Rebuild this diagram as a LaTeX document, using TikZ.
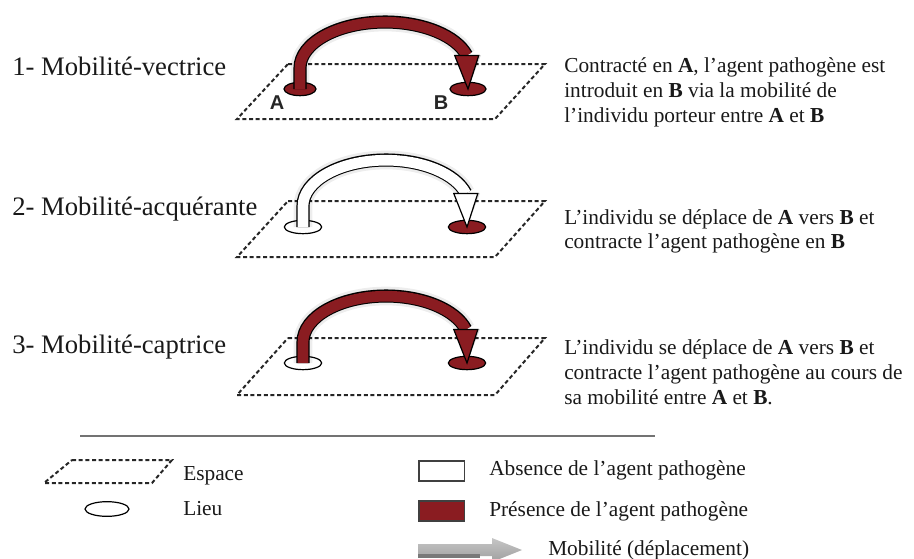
\documentclass[tikz,border=0pt]{standalone}
\usepackage{fontspec}
\setmainfont{Liberation Serif}
\newfontfamily\labfont{Liberation Sans}
\usetikzlibrary{shapes.geometric}
\definecolor{pathred}{RGB}{138,28,33}
\tikzset{
  espace/.style={draw=black!85, line width=1.5pt, dash pattern=on 3pt off 2pt},
  lieu/.style={ellipse, draw=black, line width=0.9pt, inner sep=0pt, minimum width=28pt, minimum height=10pt},
  present/.style={lieu, fill=pathred},
  absent/.style={lieu, fill=white},
  leftlabel/.style={anchor=base west, inner sep=0pt, text=black!90, font=\fontsize{20}{24}\selectfont},
  desc/.style={anchor=base west, inner sep=0pt, text=black!90, font=\fontsize{16}{19}\selectfont},
  ablabel/.style={inner sep=0pt, text=black!85, font=\labfont\bfseries\fontsize{15}{15}\selectfont},
  legbox/.style={draw=black!75, line width=1pt, inner sep=0pt, minimum width=34pt, minimum height=15pt},
}
% #1 start node, #2 end node, #3 radius, #4 fill colour
\newcommand\mobarrow[4]{%
  \begin{scope}[shift={(4,-4)}]
    \draw[line width=14pt, black, opacity=0.07] (#1.center) -- ++(0,21) arc[start angle=180, end angle=16, x radius=#3, y radius=46];
    \draw[line width=10pt, black, opacity=0.15] (#1.center) -- ++(0,21) arc[start angle=180, end angle=16, x radius=#3, y radius=46];
    \fill[black, opacity=0.15] (#2.center) ++(-13,34) -- ++(26,0) -- (#2.center) -- cycle;
  \end{scope}
  \draw[line width=9.8pt, black] (#1.center) -- ++(0,21) arc[start angle=180, end angle=16, x radius=#3, y radius=46];
  \draw[line width=8.0pt, #4] (#1.center) -- ++(0,20.8) arc[start angle=180, end angle=16, x radius=#3, y radius=46] coordinate (#2-h);
  \filldraw[fill=#4, draw=black, line width=0.9pt, line join=miter] (#2-h) ++(-12,0) -- ++(24,0) -- (#2.center) -- cycle;
}
\begin{document}
\begin{tikzpicture}[x=0.75pt, y=0.75pt]
\useasboundingbox (0,0) rectangle (914,-558);
\clip (0,0) rectangle (914,-558);

% ---------- Panel 1 ----------
\node[leftlabel] (l1) at (12,-75) {1- Mobilité-vectrice};
\draw[espace] (288,-64) -- (545,-64) -- (495,-119) -- (237,-119) -- cycle;
\node[present, minimum width=24pt] (a1) at (300,-89) {};
\node[present, minimum width=27pt] (b1) at (468,-89) {};
\mobarrow{a1}{b1}{85}{pathred}
\node[ablabel] (la) at (277,-103) {A};
\node[ablabel] (lb) at (441,-103) {B};
\node[desc] (d1a) at (564,-72) {Contracté en \textbf{A}, l’agent pathogène est};
\node[desc] (d1b) at (564,-97) {introduit en \textbf{B} via la mobilité de};
\node[desc] (d1c) at (564,-122) {l’individu porteur entre \textbf{A} et \textbf{B}};

% ---------- Panel 2 ----------
\node[leftlabel] (l2) at (12,-215) {2- Mobilité-acquérante};
\draw[espace] (288,-201) -- (545,-201) -- (495,-257) -- (237,-257) -- cycle;
\node[absent] (a2) at (303,-227) {};
\node[present] (b2) at (467,-227) {};
\mobarrow{a2}{b2}{83}{white}
\node[desc] (d2a) at (564,-224) {L’individu se déplace de \textbf{A} vers \textbf{B} et};
\node[desc] (d2b) at (564,-248) {contracte l’agent pathogène en \textbf{B}};

% ---------- Panel 3 ----------
\node[leftlabel] (l3) at (12,-353) {3- Mobilité-captrice};
\draw[espace] (288,-338) -- (545,-338) -- (495,-395) -- (237,-395) -- cycle;
\node[absent] (a3) at (303,-363) {};
\node[present] (b3) at (467,-363) {};
\mobarrow{a3}{b3}{83}{pathred}
\node[desc] (d3a) at (564,-354) {L’individu se déplace de \textbf{A} vers \textbf{B} et};
\node[desc] (d3b) at (564,-379) {contracte l’agent pathogène au cours de};
\node[desc] (d3c) at (564,-404) {sa mobilité entre \textbf{A} et \textbf{B}.};

% ---------- Legend ----------
\coordinate (sepL) at (80,-436);
\coordinate (sepR) at (655,-436);
\draw[black!55, line width=1.2pt] (sepL) -- (sepR);

\draw[espace] (72,-460) -- (172,-460) -- (152,-483) -- (44,-483) -- cycle;
\node[desc] (tesp) at (183,-480) {Espace};
\node[lieu, fill=white, minimum width=33pt, minimum height=11pt] (elieu) at (107,-509) {};
\node[desc] (tlieu) at (183,-515) {Lieu};

\node[legbox, fill=white] (babs) at (441.5,-471) {};
\node[desc] (tabs) at (489,-475) {Absence de l’agent pathogène};
\node[legbox, fill=pathred] (bpres) at (441.5,-511) {};
\node[desc] (tpres) at (489,-516) {Présence de l’agent pathogène};

\shade[top color=gray!45, bottom color=gray!75] (418,-544) -- (492,-544) -- (492,-538) -- (522,-550) -- (492,-562) -- (492,-556) -- (418,-556) -- cycle;
\fill[gray!95!black] (418,-554) rectangle (480,-558);
\node[desc] (tmob) at (548,-555) {Mobilité (déplacement)};
\end{tikzpicture}
\end{document}
